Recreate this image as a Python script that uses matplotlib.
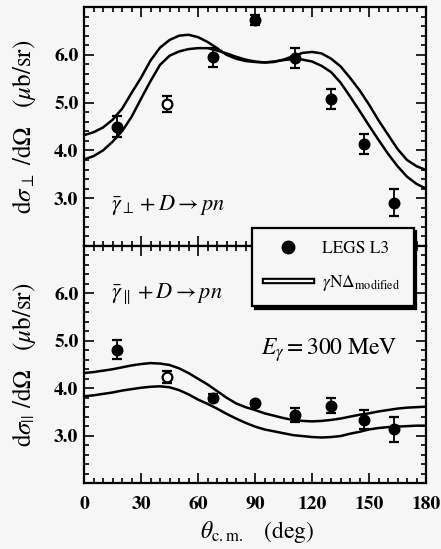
import matplotlib
matplotlib.use("Agg")
import matplotlib.pyplot as plt
import matplotlib.patheffects as pe
from matplotlib.lines import Line2D
from matplotlib.ticker import MultipleLocator, FixedLocator

plt.rcParams['font.family'] = 'STIXGeneral'
plt.rcParams['mathtext.fontset'] = 'stix'

# measured points (LEGS L3)
theta = [17.5, 43.5, 68, 90, 111, 130, 147.5, 163]
perp_y = [4.50, 4.97, 5.95, 6.73, 5.93, 5.08, 4.13, 2.91]
perp_err = [0.21, 0.17, 0.20, 0.10, 0.21, 0.21, 0.21, 0.29]
par_y = [4.81, 4.24, 3.80, 3.68, 3.43, 3.63, 3.33, 3.13]
par_err = [0.20, 0.13, 0.07, 0.06, 0.15, 0.16, 0.20, 0.27]
hollow = [False, True, False, False, False, False, False, False]

# model band (gamma N Delta modified)
th_c = [0, 5, 10, 15, 20, 25, 30, 35, 40, 45, 50, 55, 60, 65, 70, 75, 80, 85, 90,
        95, 100, 105, 110, 115, 120, 125, 130, 135, 140, 145, 150, 155, 160, 165,
        170, 175, 180]
perp_a = [4.32, 4.38, 4.48, 4.64, 4.87, 5.20, 5.52, 5.88, 6.15, 6.31, 6.40, 6.42,
          6.37, 6.27, 6.14, 6.00, 5.92, 5.87, 5.85, 5.84, 5.86, 5.89, 5.91, 5.90,
          5.86, 5.77, 5.64, 5.42, 5.13, 4.83, 4.52, 4.22, 3.93, 3.67, 3.45, 3.30, 3.20]
perp_b = [3.81, 3.88, 4.00, 4.18, 4.40, 4.70, 5.08, 5.45, 5.79, 5.98, 6.07, 6.12,
          6.14, 6.14, 6.09, 6.03, 5.96, 5.90, 5.86, 5.84, 5.85, 5.90, 5.97, 6.04,
          6.06, 6.03, 5.92, 5.76, 5.52, 5.26, 4.96, 4.63, 4.33, 4.03, 3.80, 3.67, 3.59]
par_a = [4.32, 4.34, 4.37, 4.40, 4.44, 4.48, 4.51, 4.53, 4.52, 4.49, 4.42, 4.32,
         4.20, 4.08, 3.94, 3.80, 3.68, 3.60, 3.54, 3.47, 3.42, 3.37, 3.33, 3.31,
         3.30, 3.31, 3.33, 3.36, 3.40, 3.44, 3.47, 3.51, 3.54, 3.57, 3.59, 3.60, 3.61]
par_b = [3.83, 3.85, 3.88, 3.91, 3.95, 3.98, 4.01, 4.03, 4.04, 4.02, 3.96, 3.87,
         3.76, 3.67, 3.57, 3.46, 3.36, 3.27, 3.19, 3.13, 3.09, 3.05, 3.01, 2.99,
         2.97, 2.96, 2.97, 2.99, 3.04, 3.08, 3.13, 3.16, 3.18, 3.19, 3.20, 3.21, 3.21]

bg = '#f6f6f6'
fig = plt.figure(figsize=(4.41, 5.49), dpi=100, facecolor=bg)
ax1 = fig.add_axes([0.1905, 0.5519, 0.7755, 0.4353], facecolor=bg)
ax2 = fig.add_axes([0.1905, 0.1202, 0.7755, 0.4317], facecolor=bg)


def draw(ax, y, err, ca, cb):
    ax.plot(th_c, ca, color='k', lw=1.8)
    ax.plot(th_c, cb, color='k', lw=1.8)
    for t, v, e, h in zip(theta, y, err, hollow):
        ax.errorbar(t, v, yerr=e, fmt='o', ms=7, color='k', mfc='white' if h else 'k',
                    mew=1.6, elinewidth=1.3, capsize=3.5, capthick=1.3)
    ax.set_xlim(0, 180)
    ax.set_ylim(2.0, 7.0)
    ax.xaxis.set_major_locator(MultipleLocator(30))
    ax.xaxis.set_minor_locator(MultipleLocator(5))
    ax.yaxis.set_major_locator(FixedLocator([3, 4, 5, 6]))
    ax.yaxis.set_minor_locator(MultipleLocator(0.2))
    ax.tick_params(which='both', direction='in', top=True, right=True, width=1.2)
    ax.tick_params(which='major', length=7)
    ax.tick_params(which='minor', length=3.5)
    ax.tick_params(axis='y', pad=4)
    ax.set_yticklabels(['3.0', '4.0', '5.0', '6.0'], fontsize=14, fontweight='bold')
    for s in ax.spines.values():
        s.set_linewidth(1.6)
    ax.yaxis.set_label_coords(-0.135, 0.52)


draw(ax1, perp_y, perp_err, perp_a, perp_b)
draw(ax2, par_y, par_err, par_a, par_b)

ax1.tick_params(axis='x', labelbottom=False)
ax2.tick_params(axis='x', pad=9)
ax2.set_xticks([0, 30, 60, 90, 120, 150, 180])
ax2.set_xticklabels(['0', '30', '60', '90', '120', '150', '180'], fontsize=14, fontweight='bold')

ax1.set_ylabel(r'd$\sigma_{\perp}$ /d$\Omega$   ($\mu$b/sr)', fontsize=18)
ax2.set_ylabel(r'd$\sigma_{||}$ /d$\Omega$   ($\mu$b/sr)', fontsize=18)
fig.text(257 / 441, 1 - 532 / 549, r'$\theta_{\rm c.m.}$   (deg)', fontsize=17,
         ha='center', va='center')

ax1.text(14.0, 2.86, r'$\bar{\gamma}_{\perp} + D \rightarrow pn$', fontsize=16,
         ha='left', va='center')
ax2.text(14.0, 6.0, r'$\bar{\gamma}_{\parallel} + D \rightarrow pn$', fontsize=16,
         ha='left', va='center')
ax2.text(93.0, 4.8, r'$E_{\gamma} = 300\ \mathrm{MeV}$', fontsize=17,
         ha='left', va='center')

h_pts = Line2D([], [], marker='o', ls='', color='k', ms=9)
h_band = Line2D([], [], color=bg, lw=1.6,
                path_effects=[pe.Stroke(linewidth=4.6, foreground='k'), pe.Normal()])
leg = ax2.legend([h_pts, h_band], ['LEGS L3', r'$\gamma$N$\Delta_{\rm modified}$'],
                 loc='upper left', bbox_to_anchor=(252 / 441, 1 - 228 / 549),
                 bbox_transform=fig.transFigure, fontsize=12.5, handlelength=2.7,
                 handletextpad=0.6, fancybox=False, framealpha=1, edgecolor='k',
                 facecolor=bg, shadow={'color': 'k', 'alpha': 1}, borderpad=0.75,
                 labelspacing=0.9, borderaxespad=0)
leg.get_frame().set_linewidth(1.6)
leg.set_zorder(10)

fig.savefig('out.png', dpi=100, facecolor=bg)
